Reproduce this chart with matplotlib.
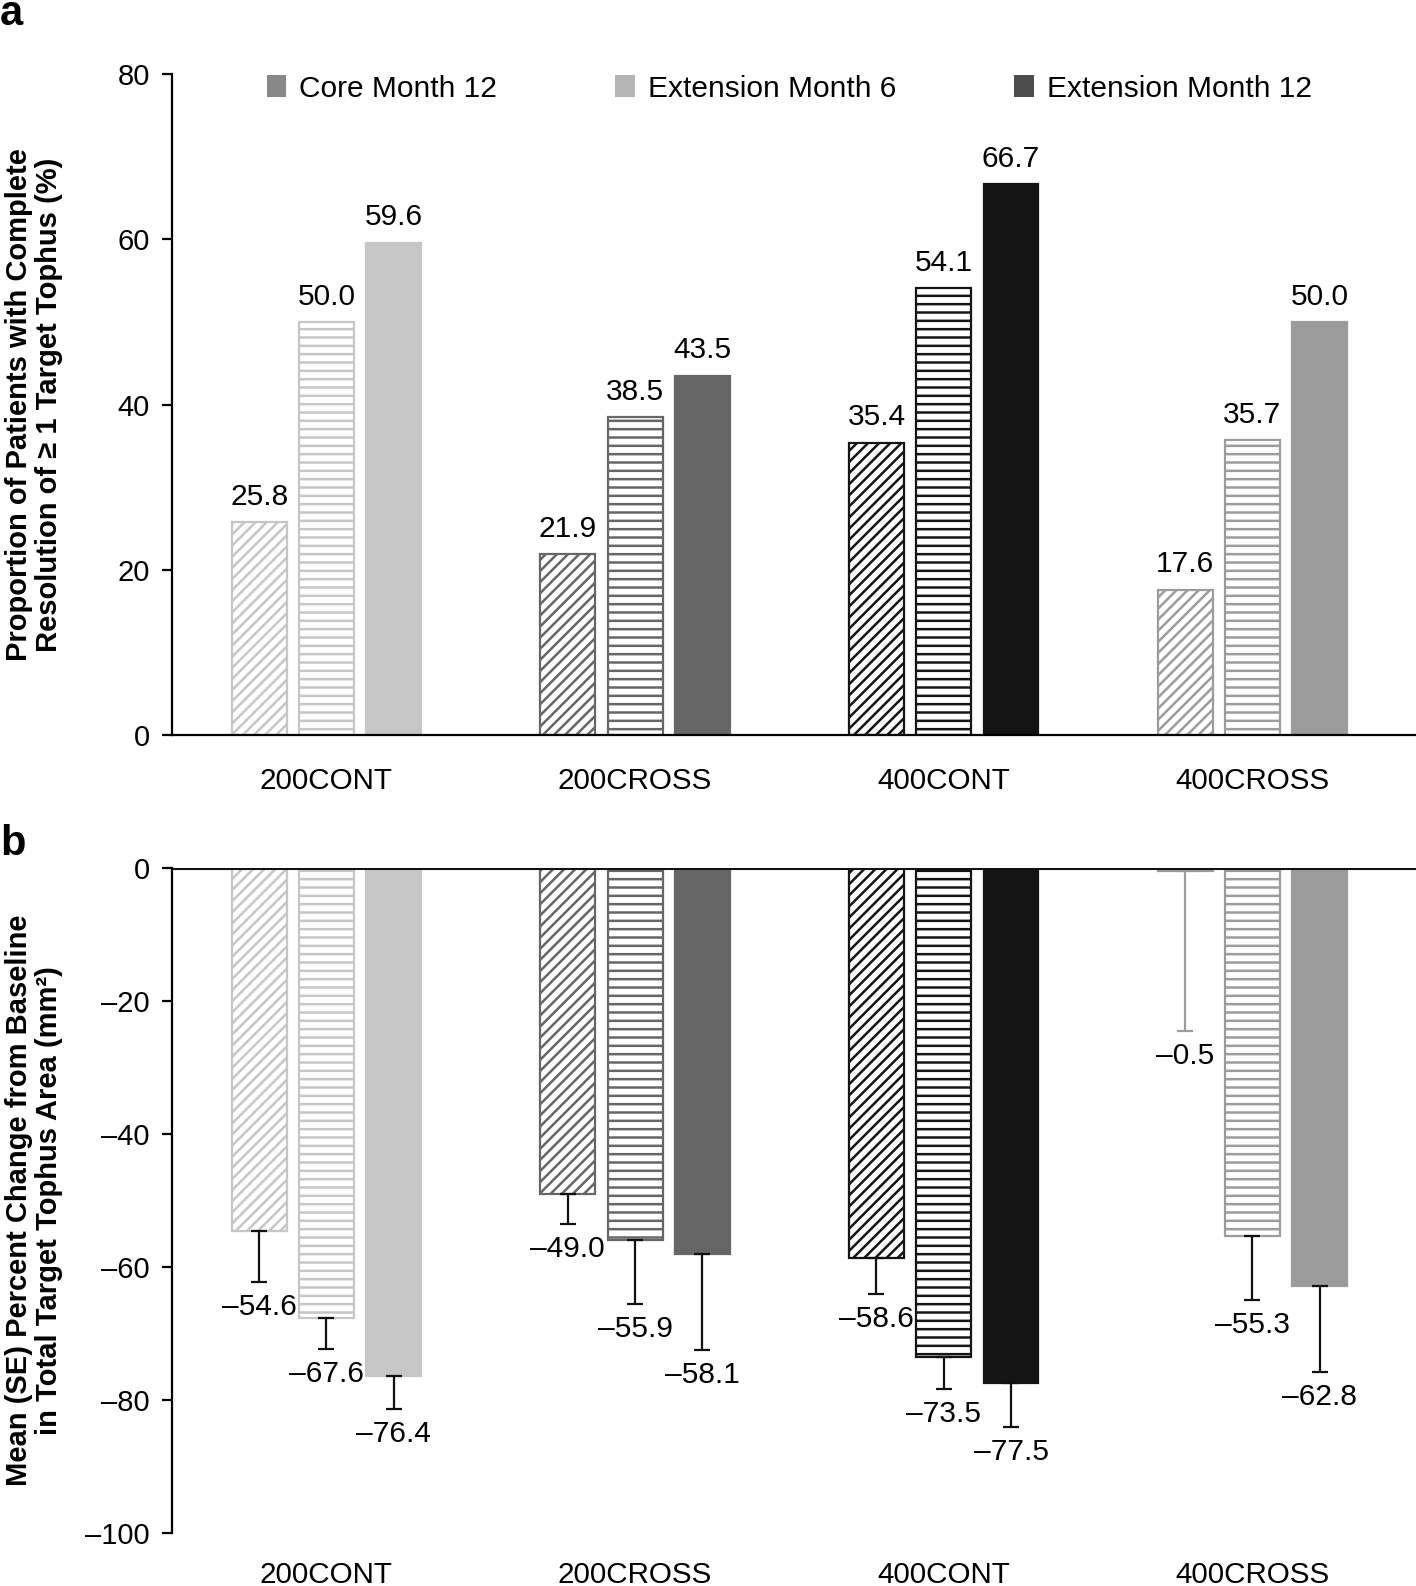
import numpy as np
import matplotlib
matplotlib.use('Agg')
import matplotlib.pyplot as plt
from matplotlib.patches import Patch

plt.rcParams['font.family'] = ['Liberation Sans', 'DejaVu Sans']
plt.rcParams['hatch.linewidth'] = 1.8

# data
groups = ['200CONT', '200CROSS', '400CONT', '400CROSS']
series = ['Core Month 12', 'Extension Month 6', 'Extension Month 12']

resolved_core12 = [25.8, 21.9, 35.4, 17.6]
resolved_ext6 = [50.0, 38.5, 54.1, 35.7]
resolved_ext12 = [59.6, 43.5, 66.7, 50.0]

change_core12 = [-54.6, -49.0, -58.6, -0.5]
change_ext6 = [-67.6, -55.9, -73.5, -55.3]
change_ext12 = [-76.4, -58.1, -77.5, -62.8]

se_core12 = [7.6, 4.5, 5.5, 24.0]
se_ext6 = [4.7, 9.6, 4.9, 9.7]
se_ext12 = [4.9, 14.4, 6.5, 13.0]

group_colors = ['#c6c6c6', '#666666', '#141414', '#9c9c9c']
legend_colors = ['#888888', '#b4b4b4', '#4d4d4d']
core_err_colors = ['#111111', '#111111', '#111111', '#9c9c9c']


def minus(v):
    return '{:.1f}'.format(v).replace('-', '\u2013')


def style_axis(ax, ylim, yticks):
    ax.set_xlim(-0.5, 3.53)
    ax.set_ylim(*ylim)
    ax.set_yticks(yticks)
    ax.set_yticklabels([minus(t).replace('.0', '') for t in yticks])
    ax.spines['top'].set_visible(False)
    ax.spines['right'].set_visible(False)
    ax.spines['left'].set_linewidth(1.6)
    ax.spines['bottom'].set_linewidth(1.6)
    ax.tick_params(axis='y', length=7, width=1.6, labelsize=21, pad=9)
    ax.set_xticks(x)
    ax.set_xticklabels(groups)
    ax.tick_params(axis='x', length=0, labelsize=21.3)


def draw_bars(ax, vals):
    bars = []
    for i, v in enumerate(vals):
        xs = x + offsets[i]
        if i == 0:
            b = ax.bar(xs, v, width, facecolor='white', edgecolor=group_colors,
                       hatch='///', linewidth=1.6, zorder=2)
        elif i == 1:
            b = ax.bar(xs, v, width, facecolor='white', edgecolor=group_colors,
                       hatch='--', linewidth=1.6, zorder=2)
        else:
            b = ax.bar(xs, v, width, color=group_colors, edgecolor=group_colors,
                       linewidth=1.6, zorder=2)
        bars.append(b)
    return bars


x = np.arange(len(groups))
offsets = [-0.218, 0.0, 0.218]
width = 0.178

fig = plt.figure(figsize=(14.16, 15.86), dpi=100)
ax1 = fig.add_axes([0.1215, 0.5366, 0.8785, 0.4167])
ax2 = fig.add_axes([0.1215, 0.0334, 0.8785, 0.4193])

# Panel a
style_axis(ax1, (0, 80), [0, 20, 40, 60, 80])
ax1.tick_params(axis='x', pad=23)
draw_bars(ax1, [resolved_core12, resolved_ext6, resolved_ext12])
for i, vals in enumerate([resolved_core12, resolved_ext6, resolved_ext12]):
    for j, v in enumerate(vals):
        ax1.annotate('{:.1f}'.format(v), (x[j] + offsets[i], v), xytext=(0, 8),
                     textcoords='offset points', ha='center', va='bottom', fontsize=21.5)
ax1.set_ylabel('Proportion of Patients with Complete\nResolution of \u2265 1 Target Tophus (%)',
               fontsize=21, fontweight='bold', linespacing=1.05)
ax1.yaxis.set_label_coords(-0.088, 0.5)
handles = [Patch(facecolor=c, edgecolor='none') for c in legend_colors]
ax1.legend(handles, series, loc='upper left', bbox_to_anchor=(0.076, 0.999), ncol=3,
           frameon=False, fontsize=21.5, handlelength=0.65, handleheight=0.75,
           handletextpad=0.45, columnspacing=3.95, borderpad=0, borderaxespad=0)

# Panel b
style_axis(ax2, (-100, 0), [0, -20, -40, -60, -80, -100])
ax2.spines['bottom'].set_visible(False)
ax2.tick_params(axis='x', pad=20)
ax2.axhline(0, color='#111111', linewidth=2.2, zorder=4)
draw_bars(ax2, [change_core12, change_ext6, change_ext12])
changes = [change_core12, change_ext6, change_ext12]
errs = [se_core12, se_ext6, se_ext12]
for i in range(3):
    for j in range(len(groups)):
        v = changes[i][j]
        e = errs[i][j]
        ec = core_err_colors[j] if i == 0 else '#111111'
        ax2.errorbar(x[j] + offsets[i], v, yerr=[[e], [0]], fmt='none', ecolor=ec,
                     elinewidth=1.6, capsize=6, capthick=1.6, zorder=3)
        ax2.annotate(minus(v), (x[j] + offsets[i], v - e), xytext=(0, -8),
                     textcoords='offset points', ha='center', va='top', fontsize=21.5)
ax2.set_ylabel('Mean (SE) Percent Change from Baseline\nin Total Target Tophus Area (mm\u00b2)',
               fontsize=21, fontweight='bold', linespacing=1.05)
ax2.yaxis.set_label_coords(-0.088, 0.5)

fig.text(0.0, 0.984, 'a', fontsize=30, fontweight='bold', ha='left', va='baseline')
fig.text(0.0, 0.461, 'b', fontsize=30, fontweight='bold', ha='left', va='baseline')

fig.savefig('out.png', dpi=100)
